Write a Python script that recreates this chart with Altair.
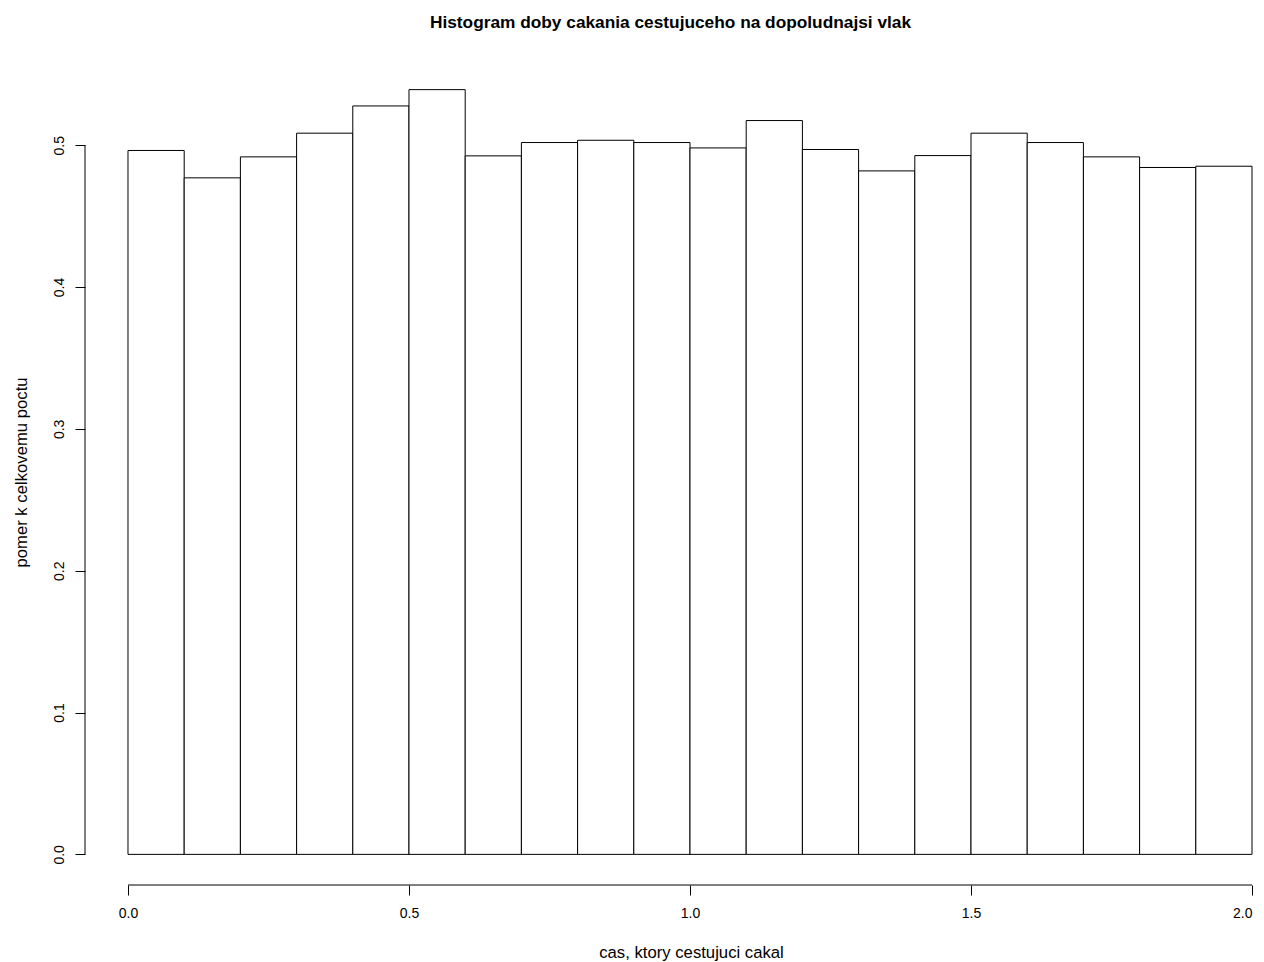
import altair as alt
import pandas as pd

bin_start = [round(0.1 * i, 1) for i in range(20)]
bin_end = [round(0.1 * (i + 1), 1) for i in range(20)]
density = [0.4963, 0.4770, 0.4918, 0.5085, 0.5277, 0.5392, 0.4925, 0.5019,
           0.5035, 0.5019, 0.4981, 0.5174, 0.4970, 0.4819, 0.4927, 0.5085,
           0.5019, 0.4918, 0.4843, 0.4852]
x_ticks = [0.0, 0.5, 1.0, 1.5, 2.0]
y_ticks = [0.0, 0.1, 0.2, 0.3, 0.4, 0.5]

XMIN, XMAX = -0.0765, 2.0071
YMIN, YMAX = -0.0216, 0.5608

df = pd.DataFrame({"start": bin_start, "end": bin_end, "d": density})
FONT = "Liberation Sans"

xs = alt.Scale(domain=[XMIN, XMAX], nice=False, zero=False)
ys = alt.Scale(domain=[YMIN, YMAX], nice=False, zero=False)

xaxis = alt.Axis(values=x_ticks, format=".1f", domain=False, grid=False,
                 tickSize=10, tickColor="black", labelColor="black",
                 labelFont=FONT, labelFontSize=14, labelPadding=11,
                 labelBaseline="top", labelFlush=6,
                 title="cas, ktory cestujuci cakal", titleFont=FONT,
                 titleFontSize=16.7, titleFontWeight="normal", titleColor="black",
                 titleX=606, titleY=72, titleBaseline="alphabetic")
yaxis = alt.Axis(values=y_ticks, format=".1f", domain=False, grid=False,
                 tickSize=10, tickColor="black", labelColor="black",
                 labelFont=FONT, labelFontSize=14, labelPadding=9,
                 labelAngle=-90, labelAlign="center", labelBaseline="bottom",
                 title="pomer k celkovemu poctu", titleFont=FONT,
                 titleFontSize=16.7, titleFontWeight="normal", titleColor="black",
                 titleX=-64, titleY=413, titleAngle=-90, titleBaseline="middle")

bars = alt.Chart(df).mark_bar(fill="white", stroke="black", strokeWidth=1).encode(
    x=alt.X("start:Q", scale=xs, axis=xaxis),
    x2="end:Q",
    y=alt.Y("d:Q", scale=ys, axis=yaxis),
    y2=alt.datum(0),
)

xline = alt.Chart(pd.DataFrame({"a": [x_ticks[0]], "b": [x_ticks[-1]], "y": [YMIN]})).mark_rule(
    color="black", strokeWidth=1).encode(
    x=alt.X("a:Q", scale=xs), x2="b:Q", y=alt.Y("y:Q", scale=ys))
yline = alt.Chart(pd.DataFrame({"a": [y_ticks[0]], "b": [y_ticks[-1]], "x": [XMIN]})).mark_rule(
    color="black", strokeWidth=1).encode(
    y=alt.Y("a:Q", scale=ys), y2="b:Q", x=alt.X("x:Q", scale=xs))

chart = alt.layer(bars, xline, yline).properties(
    width=1171, height=826,
    padding={"left": 77, "top": 51, "right": 0, "bottom": 76},
    autosize=alt.AutoSizeParams(type="none"),
    background="white",
    title=alt.TitleParams("Histogram doby cakania cestujuceho na dopoludnajsi vlak",
                          font=FONT, fontSize=17.3, fontWeight="bold", color="black",
                          anchor="middle", offset=28),
).configure_view(strokeWidth=0)

chart.save("out.html", embed_options={"renderer": "svg", "actions": False})
